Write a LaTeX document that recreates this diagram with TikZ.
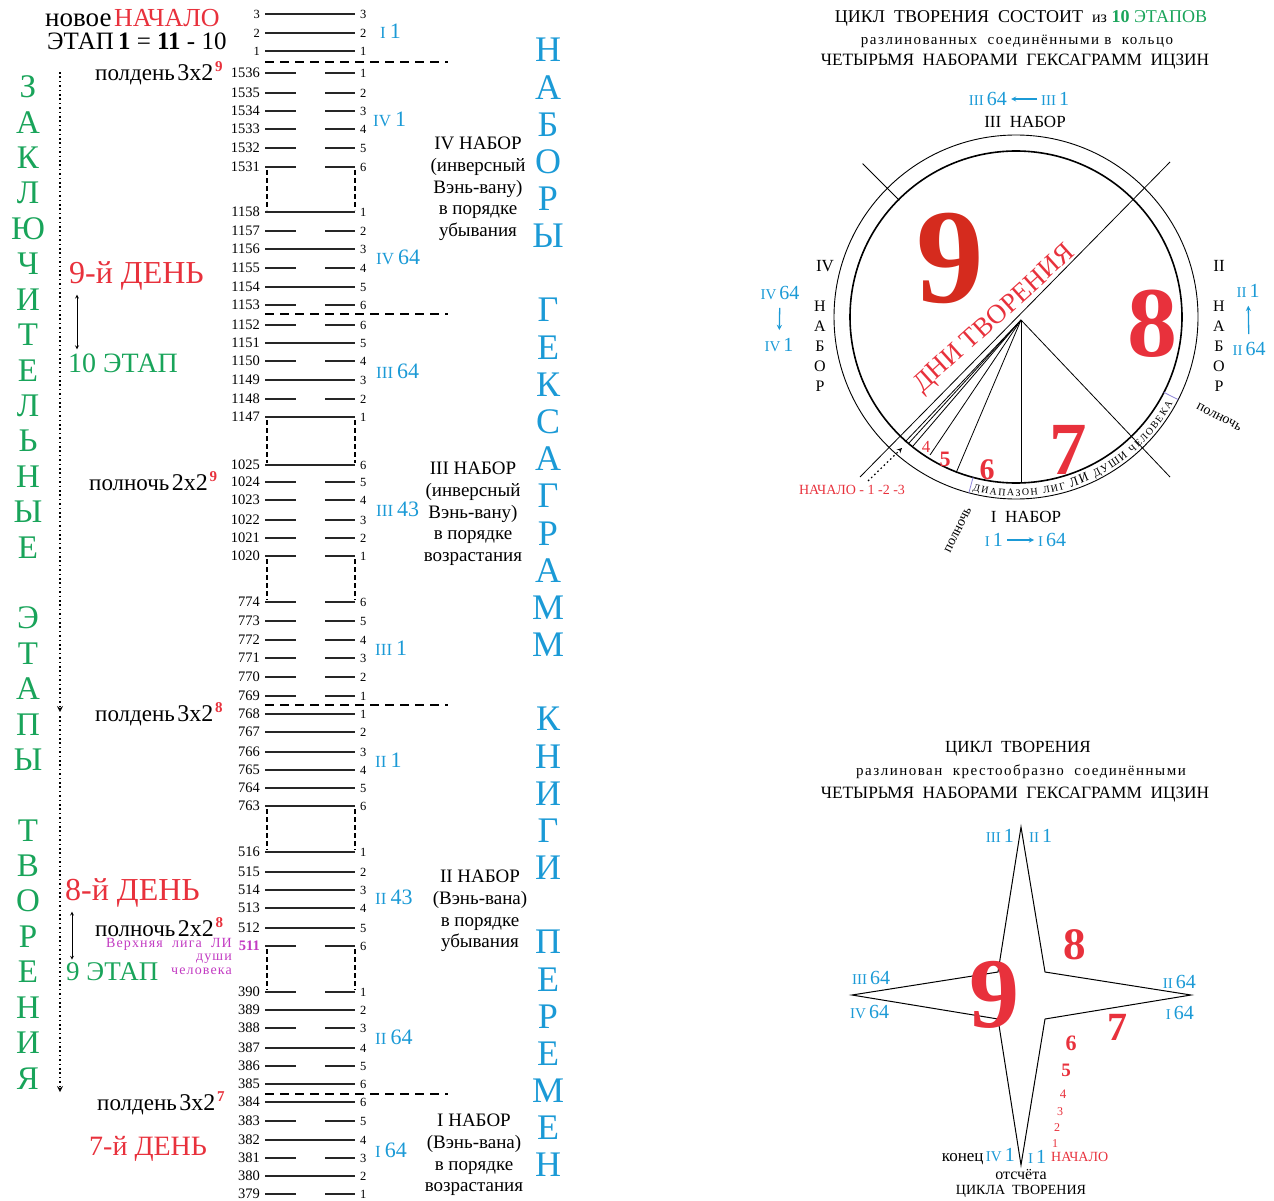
\documentclass[tikz,border=0pt]{standalone}
\usepackage{fontspec}
\setmainfont{Liberation Serif}
\usepackage{xcolor}
\usepackage{tikz}
\usetikzlibrary{positioning, decorations.text}
\definecolor{setblue}{HTML}{1B9AD6}
\definecolor{stagegreen}{HTML}{19A45A}
\definecolor{dayred}{HTML}{E8313C}
\definecolor{deepred}{HTML}{D52B1E}
\definecolor{soulmagenta}{HTML}{C23BC2}
\definecolor{rangeviolet}{HTML}{8C82D8}
\newcommand{\fsz}[1]{\fontsize{#1}{#1}\selectfont}
\newcommand{\setlabel}[2]{{\fsz{17}#1}\hspace{4pt}{\fsz{22}#2}}
\newcommand{\setsmall}[2]{{\fsz{15}#1}\hspace{3pt}{\fsz{20}#2}}
\newcommand{\clock}[3]{{\fsz{23}#1} {\fsz{24}#2}\,\raisebox{9pt}{\fsz{15}\bfseries\color{dayred}#3}}

\begin{document}
\begin{tikzpicture}
[x=1pt, y=-1pt,
hexline/.style={line width=1.2pt, draw=black!85},
yin/.style={dash pattern=on 31pt off 29pt},
yang/.style={},
numl/.style={anchor=east, inner xsep=5pt, inner ysep=1pt, font=\fsz{14.5}},
numr/.style={anchor=west, inner xsep=5pt, inner ysep=1pt, font=\fsz{12.5}},
setcut/.style={line width=1.8pt, dash pattern=on 9pt off 6pt},
gapline/.style={line width=1.6pt, dash pattern=on 5pt off 3pt},
setlab/.style={anchor=west, inner sep=0pt, text=setblue},
tallgreen/.style={text=stagegreen, font=\fsz{33}},
tallblue/.style={text=setblue, font=\fsz{36}},
block/.style={align=center, font=\fontsize{19}{21.7}\selectfont},
stagedots/.style={line width=1.6pt, dash pattern=on 1.6pt off 2.8pt, -stealth},
stagearrow/.style={stealth-stealth, line width=0.8pt},
setarrow/.style={draw=setblue, line width=1.3pt, -stealth, shorten >=4pt, shorten <=4pt},
ray/.style={line width=0.8pt},
rangetick/.style={draw=rangeviolet, line width=0.8pt}
]
\useasboundingbox (0,0) rectangle (1274,1201);

% hexagram column
\foreach \yy/\k in {14/3, 33/2, 51/1}
{
\node[numl, font=\fsz{12.5}] (t\k) at (265,\yy) {\k};
\node[numr] (u\k) at (355,\yy) {\k};
\draw[hexline] (t\k.east) -- (u\k.west);
}
\foreach \yy/\lft/\rgt/\kind in {73/1536/1/yin, 93/1535/2/yin, 111/1534/3/yin, 129/1533/4/yin, 148/1532/5/yin, 167/1531/6/yin,
212/1158/1/yang, 231/1157/2/yin, 249/1156/3/yang, 268/1155/4/yin, 287/1154/5/yang, 305/1153/6/yin,
325/1152/6/yin, 343/1151/5/yang, 361/1150/4/yin, 380/1149/3/yang, 399/1148/2/yin, 417/1147/1/yang,
465/1025/6/yang, 482/1024/5/yin, 500/1023/4/yin, 520/1022/3/yin, 538/1021/2/yin, 556/1020/1/yin,
602/774/6/yin, 621/773/5/yin, 640/772/4/yin, 658/771/3/yin, 677/770/2/yin, 696/769/1/yin,
714/768/1/yang, 732/767/2/yang, 752/766/3/yang, 770/765/4/yang, 788/764/5/yang, 806/763/6/yang,
852/516/1/yang, 872/515/2/yang, 890/514/3/yang, 908/513/4/yang, 928/512/5/yang,
992/390/1/yin, 1010/389/2/yang, 1028/388/3/yin, 1048/387/4/yang, 1066/386/5/yin, 1084/385/6/yang,
1102/384/6/yang, 1121/383/5/yin, 1140/382/4/yang, 1158/381/3/yin, 1176/380/2/yang, 1194/379/1/yin}
{
\node[numl] (n\lft) at (265,\yy) {\lft};
\node[numr] (m\lft) at (355,\yy) {\rgt};
\draw[hexline,\kind] (n\lft.east) -- (m\lft.west);
}
\node[numl, text=soulmagenta, font=\fsz{14.5}\bfseries] (n511) at (265,946) {511};
\node[numr] (m511) at (355,946) {6};
\draw[hexline,yin] (n511.east) -- (m511.west);

\foreach \yy in {62,314,705,1094}
\draw[setcut] (265,\yy) -- (448,\yy);
\foreach \ya/\yb in {170/210, 420/463, 559/600, 809/850, 949/990}
\draw[gapline] (267,\ya) -- (267,\yb) (355,\ya) -- (355,\yb);

\node[setlab] (s1a) at (380,31) {\setlabel{I}{1}};
\node[setlab] (s4a) at (373,119) {\setlabel{IV}{1}};
\node[setlab] (s4z) at (376,257) {\setlabel{IV}{64}};
\node[setlab] (s3z) at (376,371) {\setlabel{III}{64}};
\node[setlab] (s3m) at (376,509) {\setlabel{III}{43}};
\node[setlab] (s3a) at (375,648) {\setlabel{III}{1}};
\node[setlab] (s2a) at (375,760) {\setlabel{II}{1}};
\node[setlab] (s2m) at (375,897) {\setlabel{II}{43}};
\node[setlab] (s2z) at (375,1037) {\setlabel{II}{64}};
\node[setlab] (s1z) at (375,1150) {\setlabel{I}{64}};

\node[block] (set4) at (478,189) {IV НАБОР\\(инверсный\\Вэнь-вану)\\в порядке\\убывания};
\node[block] (set3) at (473,514) {III НАБОР\\(инверсный\\Вэнь-вану)\\в порядке\\возрастания};
\node[block] (set2) at (480,911) {II НАБОР\\(Вэнь-вана)\\в порядке\\убывания};
\node[block] (set1) at (474,1155) {I НАБОР\\(Вэнь-вана)\\в порядке\\возрастания};

% tall words
\foreach \ch [count=\i from 0] in {Н,А,Б,О,Р,Ы,{},Г,Е,К,С,А,Г,Р,А,М,М,{},К,Н,И,Г,И,{},П,Е,Р,Е,М,Е,Н}
\node[tallblue] (b\i) at (548,50+37.17*\i) {\ch};
\foreach \ch [count=\i from 0] in {З,А,К,Л,Ю,Ч,И,Т,Е,Л,Ь,Н,Ы,Е,{},Э,Т,А,П,Ы,{},Т,В,О,Р,Е,Н,И,Я}
\node[tallgreen] (g\i) at (28,87+35.4*\i) {\ch};

% left texts
\node[anchor=base west, inner sep=0pt] (newbegin) at (45,27) {{\fsz{27}новое} {\fsz{26}\color{dayred}НАЧАЛО}};
\node[anchor=base west, inner sep=0pt, font=\fsz{25}] (stage1) at (47,50) {ЭТАП\,\textbf{1} = \textbf{11} - 10};
\node[anchor=base west, inner sep=0pt] (noon9) at (95,81) {\clock{полдень}{3x2}{9}};
\node[anchor=base west, inner sep=0pt] (midnight9) at (89,490) {\clock{полночь}{2x2}{9}};
\node[anchor=base west, inner sep=0pt] (noon8) at (95,721) {\clock{полдень}{3x2}{8}};
\node[anchor=base west, inner sep=0pt] (midnight8) at (95,936) {\clock{полночь}{2x2}{8}};
\node[anchor=base west, inner sep=0pt] (noon7) at (97,1110) {\clock{полдень}{3x2}{7}};
\node[anchor=west, inner sep=0pt, text=dayred, font=\fsz{32}] (day9) at (69,276) {9-й ДЕНЬ};
\node[anchor=west, inner sep=0pt, text=stagegreen, font=\fsz{28}] (stage10) at (68,363) {10 ЭТАП};
\node[anchor=west, inner sep=0pt, text=dayred, font=\fsz{32}] (day8) at (65,893) {8-й ДЕНЬ};
\node[anchor=west, inner sep=0pt, text=stagegreen, font=\fsz{27}] (stage9) at (66,972) {9 ЭТАП};
\node[anchor=west, inner sep=0pt, text=dayred, font=\fsz{28}] (day7) at (89,1149) {7-й ДЕНЬ};
\node[anchor=north east, align=right, inner sep=0pt, text=soulmagenta, font={\fontsize{14}{13.5}\selectfont\addfontfeatures{LetterSpace=8}}] (soul) at (232,938) {Верхняя~ лига~ ЛИ\\души\\человека};
\draw[stagearrow] ([xshift=8pt,yshift=-4pt]day9.south west) -- ([xshift=9pt,yshift=4pt]stage10.north west);
\draw[stagearrow] ([xshift=7pt,yshift=-4pt]day8.south west) -- ([xshift=6pt,yshift=3pt]stage9.north west);
\coordinate (dotA) at (60,72);
\coordinate (dotB) at (60,712);
\coordinate (dotC) at (60,716);
\coordinate (dotD) at (60,1092);
\draw[stagedots] (dotA) -- (dotB);
\draw[stagedots] (dotC) -- (dotD);

% ring of the cycle
\node[font=\fsz{18}] (ctitle) at (1021,18) {ЦИКЛ~~ТВОРЕНИЯ~~СОСТОИТ~~{\fsz{16}из}~\textcolor{stagegreen}{\textbf{10}~ЭТАПОВ}};
\node[font={\fsz{15}\addfontfeatures{LetterSpace=10}}] (csub) at (1017,41) {разлинованных~ соединёнными в~ кольцо};
\node[font=\fsz{17.3}] (cline) at (1015,62) {ЧЕТЫРЬМЯ~ НАБОРАМИ~ ГЕКСАГРАММ~ ИЦЗИН};

\coordinate (cc) at (1016,317);
\coordinate (o) at (1021,320);
\draw[line width=0.9pt] (cc) circle[radius=182];
\draw[line width=1.6pt] (cc) circle[radius=166];
\draw[ray] (860,477) -- (1170,162);
\draw[ray] (o) -- (1170,477);
\draw[ray] (cc) ++(-135:165) -- ++(-135:52);
\foreach \ex/\ey in {905/442, 909/443, 913/446, 930/455, 956/473, 1021/483}
\draw[ray] (o) -- (\ex,\ey);
\draw[rangetick] (cc) ++(-255:166) -- ++(-255:16);
\draw[rangetick] (cc) ++(-333:166) -- ++(-333:16);
\path[decorate, decoration={text along path, text align={fit to path},
text={|\fsz{10}|ДИАПАЗОН ЛИГ |\fsz{13}|ЛИ |\fsz{11}|ДУШИ |\fsz{10}|ЧЕЛОВЕКА}}]
(972.7,490.7) arc[start angle=-256, end angle=-331, radius=179];

\node[rotate=42, anchor=base, inner sep=0pt, font=\fsz{27}, text=dayred] (days) at (999,324) {ДНИ ТВОРЕНИЯ};
\node[font=\fsz{135}\bfseries, text=deepred] (nine) at (950,258) {9};
\node[font=\fsz{100}\bfseries, text=dayred] (eight) at (1152,324) {8};
\node[font=\fsz{75}\bfseries, text=dayred] (seven) at (1068,450) {7};
\node[font=\fsz{30}\bfseries, text=dayred] (six) at (987,470) {6};
\node[font=\fsz{22}\bfseries, text=dayred] (five) at (945,459) {5};
\node[font=\fsz{17}, text=dayred] (four) at (926,447) {4};
\node[font=\fsz{14}, text=dayred] (zero) at (852,490) {НАЧАЛО - 1 -2 -3};
\coordinate (dotE) at (868,481);
\coordinate (dotF) at (902,448);
\draw[stagedots, line width=1.2pt] (dotE) -- (dotF);
\node[rotate=64, font=\fsz{14}] (midnightA) at (958,530) {полночь};
\node[rotate=-27, font=\fsz{14}] (midnightB) at (1219,417) {полночь};

\node[font=\fsz{17}] (set3name) at (1025,122) {III~~НАБОР};
\node[setlab, anchor=east] (c3last) at (1007,99) {\setsmall{III}{64}};
\node[setlab] (c3first) at (1041,99) {\setsmall{III}{1}};
\draw[setarrow] (c3first) -- (c3last);
\node[font=\fsz{17}] (set1name) at (1026,517) {I~~НАБОР};
\node[setlab, anchor=east] (c1first) at (1003,540) {\setsmall{I}{1}};
\node[setlab] (c1last) at (1038,540) {\setsmall{I}{64}};
\draw[setarrow] (c1first) -- (c1last);
\node[font=\fsz{17}] (set4name) at (825,266) {IV};
\node[font=\fsz{17}] (set2name) at (1219,266) {II};
\foreach \ch [count=\i from 0] in {Н,А,Б,О,Р}
{
\node[font=\fsz{16}] (lv\i) at (820,306+20*\i) {\ch};
\node[font=\fsz{16}] (rv\i) at (1219,306+20*\i) {\ch};
}
\node[text=setblue, inner sep=0pt] (c4last) at (780,293) {\setsmall{IV}{64}};
\node[text=setblue, inner sep=0pt] (c4first) at (779,345) {\setsmall{IV}{1}};
\draw[setarrow, shorten <=8pt, shorten >=8pt] (c4last) -- (c4first);
\node[text=setblue, inner sep=0pt] (c2first) at (1248,291) {\setsmall{II}{1}};
\node[text=setblue, inner sep=0pt] (c2last) at (1249,349) {\setsmall{II}{64}};
\draw[setarrow, shorten <=8pt, shorten >=8pt] (c2last) -- (c2first);

% cross of the cycle
\node[font=\fsz{17}] (stitle) at (1018,749) {ЦИКЛ~~ТВОРЕНИЯ};
\node[font={\fsz{15}\addfontfeatures{LetterSpace=10}}] (ssub) at (1021,772) {разлинован~ крестообразно~ соединёнными};
\node[font=\fsz{17.3}] (sline) at (1015,795) {ЧЕТЫРЬМЯ~ НАБОРАМИ~ ГЕКСАГРАММ~ ИЦЗИН};
\draw[line width=1pt] (1021,827) -- (1045,972) -- (1191,995) -- (1045,1019) -- (1021,1165)
-- (998,1019) -- (852,995) -- (998,972) -- cycle;
\node[setlab, anchor=east] (x3a) at (1014,836) {\setsmall{III}{1}};
\node[setlab] (x2a) at (1029,836) {\setsmall{II}{1}};
\node[setlab] (x3z) at (852,978) {\setsmall{III}{64}};
\node[setlab] (x4z) at (850,1012) {\setsmall{IV}{64}};
\node[setlab, anchor=east] (x2z) at (1196,982) {\setsmall{II}{64}};
\node[setlab, anchor=east] (x1z) at (1194,1013) {\setsmall{I}{64}};
\node[font=\fsz{100}\bfseries, text=dayred] (snine) at (994,995) {9};
\node[font=\fsz{45}\bfseries, text=dayred] (seight) at (1075,945) {8};
\node[font=\fsz{40}\bfseries, text=dayred] (sseven) at (1117,1027) {7};
\node[font=\fsz{22}\bfseries, text=dayred] (ssix) at (1071,1043) {6};
\node[font=\fsz{19}\bfseries, text=dayred] (sfive) at (1066,1070) {5};
\node[font=\fsz{13}, text=dayred] (sfour) at (1063,1094) {4};
\node[font=\fsz{12}, text=dayred] (sthree) at (1060,1112) {3};
\node[font=\fsz{12}, text=dayred] (stwo) at (1057,1128) {2};
\node[font=\fsz{12}, text=dayred] (sone) at (1055,1144) {1};
\node[anchor=east, inner sep=0pt] (xend) at (1015,1157) {{\fsz{17}конец} \textcolor{setblue}{\setsmall{IV}{1}}};
\node[setlab] (x1a) at (1028,1157) {\setsmall{I}{1}};
\node[anchor=west, inner sep=0pt, font=\fsz{14}, text=dayred] (xstart) at (1051,1157) {НАЧАЛО};
\node[font=\fsz{16}] (count) at (1021,1175) {отсчёта};
\node[font=\fsz{14}] (cyclename) at (1021,1191) {ЦИКЛА~~ТВОРЕНИЯ};
\end{tikzpicture}
\end{document}
